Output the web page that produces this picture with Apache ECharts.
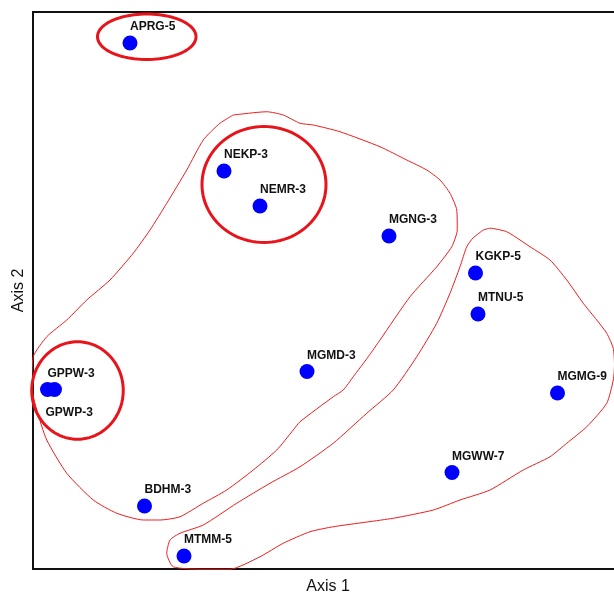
<!DOCTYPE html>
<html>
<head>
<meta charset="utf-8">
<script src="https://cdn.jsdelivr.net/npm/echarts@6/dist/echarts.min.js"></script>
<style>
  html, body { margin: 0; padding: 0; background: #fff; }
  #chart { width: 614px; height: 594px; }
</style>
</head>
<body>
<div id="chart"></div>
<script>
// NMDS site scores
const sites = ['APRG-5', 'NEKP-3', 'NEMR-3', 'MGNG-3', 'KGKP-5', 'MTNU-5', 'MGMD-3',
               'GPPW-3', 'GPWP-3', 'MGMG-9', 'MGWW-7', 'BDHM-3', 'MTMM-5'];
const axis1 = [-0.792, -0.416, -0.272, 0.244, 0.590, 0.600, -0.084,
               -1.122, -1.094, 0.918, 0.496, -0.734, -0.576];
const axis2 = [0.990, 0.478, 0.338, 0.218, 0.070, -0.094, -0.324,
               -0.396, -0.396, -0.410, -0.728, -0.862, -1.062];

// sites whose label sits under the point
const labelBelow = ['GPWP-3'];

// ellipses around small groups: centre and semi-axes in score units
const ellipseX = [-0.725, -0.256, -1.002];
const ellipseY = [1.015, 0.424, -0.400];
const ellipseRx = [0.197, 0.248, 0.183];
const ellipseRy = [0.091, 0.232, 0.195];

// cluster outlines (score units)
const hullA = [
  [-0.379, 0.702], [-0.299, 0.711], [-0.245, 0.715], [-0.179, 0.702], [-0.112, 0.669],
  [-0.059, 0.662], [0.048, 0.635], [0.208, 0.575], [0.315, 0.522], [0.395, 0.482],
  [0.448, 0.442], [0.488, 0.389], [0.515, 0.322], [0.517, 0.242], [0.495, 0.175],
  [0.435, 0.095], [0.328, -0.025], [0.208, -0.198], [0.161, -0.265], [0.101, -0.345],
  [0.061, -0.398], [0.021, -0.425], [-0.112, -0.525], [-0.139, -0.558], [-0.205, -0.638],
  [-0.299, -0.718], [-0.405, -0.798], [-0.499, -0.851], [-0.592, -0.905], [-0.672, -0.918],
  [-0.739, -0.918], [-0.845, -0.891], [-0.939, -0.838], [-1.045, -0.731], [-1.125, -0.598],
  [-1.165, -0.478], [-1.185, -0.385], [-1.179, -0.265], [-1.125, -0.185], [-1.045, -0.118],
  [-0.965, -0.038], [-0.872, 0.042], [-0.779, 0.149], [-0.712, 0.242], [-0.645, 0.349],
  [-0.565, 0.482], [-0.499, 0.602], [-0.432, 0.669], [-0.379, 0.702]
];
const hullB = [
  [0.621, 0.242], [0.648, 0.249], [0.715, 0.235], [0.768, 0.202], [0.808, 0.175],
  [0.888, 0.122], [0.955, 0.042], [1.021, -0.051], [1.075, -0.118], [1.115, -0.171],
  [1.141, -0.231], [1.146, -0.298], [1.141, -0.358], [1.115, -0.451], [1.035, -0.545],
  [0.955, -0.611], [0.888, -0.665], [0.781, -0.718], [0.648, -0.798], [0.528, -0.838],
  [0.421, -0.878], [0.261, -0.911], [0.021, -0.945], [-0.072, -0.965], [-0.179, -1.011],
  [-0.272, -1.065], [-0.392, -1.115], [-0.499, -1.115], [-0.619, -1.105], [-0.645, -1.051],
  [-0.632, -0.998], [-0.592, -0.971], [-0.499, -0.938], [-0.365, -0.851], [-0.232, -0.771],
  [-0.112, -0.705], [0.021, -0.611], [0.155, -0.491], [0.261, -0.398], [0.355, -0.265],
  [0.435, -0.131], [0.488, -0.011], [0.528, 0.095], [0.555, 0.175], [0.580, 0.210],
  [0.621, 0.242]
];

const FONT = '"Liberation Sans", Arial, sans-serif';

const points = sites.map((name, i) => {
  const item = { name: name, value: [axis1[i], axis2[i]] };
  if (labelBelow.includes(name)) {
    item.label = { position: [-1.5, 30.3] };
  }
  return item;
});

const ellipses = ellipseX.map((x, i) => [x, ellipseY[i], ellipseRx[i], ellipseRy[i]]);

function outline(data) {
  return {
    type: 'line',
    data: data,
    symbol: 'none',
    silent: true,
    clip: false,
    smooth: 0.2,
    z: 2,
    lineStyle: { color: '#ee1c1c', width: 1 }
  };
}

const chart = echarts.init(document.getElementById('chart'), null, { renderer: 'canvas' });
chart.setOption({
  animation: false,
  backgroundColor: '#ffffff',
  grid: {
    left: 33, top: 12, width: 590, height: 557,
    outerBoundsMode: 'none',
    containLabel: false,
    show: true, borderColor: '#111', borderWidth: 2, backgroundColor: 'transparent'
  },
  xAxis: {
    type: 'value', min: -1.18, max: 1.18,
    name: 'Axis 1', nameLocation: 'middle', nameGap: 10,
    nameTextStyle: { fontFamily: FONT, fontSize: 16, color: '#111' },
    axisLine: { show: false }, axisTick: { show: false },
    axisLabel: { show: false }, splitLine: { show: false }
  },
  yAxis: {
    type: 'value', min: -1.114, max: 1.114,
    name: 'Axis 2', nameLocation: 'middle', nameGap: 6,
    nameTextStyle: { fontFamily: FONT, fontSize: 16, color: '#111' },
    axisLine: { show: false }, axisTick: { show: false },
    axisLabel: { show: false }, splitLine: { show: false }
  },
  series: [
    outline(hullA),
    outline(hullB),
    {
      type: 'custom',
      data: ellipses,
      silent: true,
      clip: false,
      z: 3,
      renderItem: function (params, api) {
        const c = api.coord([api.value(0), api.value(1)]);
        const r = api.size([api.value(2), api.value(3)]);
        const pts = [];
        for (let k = 0; k < 96; k++) {
          const t = (k / 96) * Math.PI * 2;
          pts.push([c[0] + r[0] * Math.cos(t), c[1] + r[1] * Math.sin(t)]);
        }
        return {
          type: 'polygon',
          shape: { points: pts },
          style: { fill: 'none', stroke: '#e8141c', lineWidth: 3 }
        };
      }
    },
    {
      type: 'scatter',
      data: points,
      symbolSize: 15,
      z: 5,
      itemStyle: { color: '#0000ff', opacity: 1 },
      label: {
        show: true,
        formatter: '{b}',
        position: [7.5, -8.8],
        align: 'left',
        verticalAlign: 'middle',
        fontFamily: FONT,
        fontWeight: 'bold',
        fontSize: 12,
        color: '#111'
      }
    }
  ]
});
</script>
</body>
</html>
